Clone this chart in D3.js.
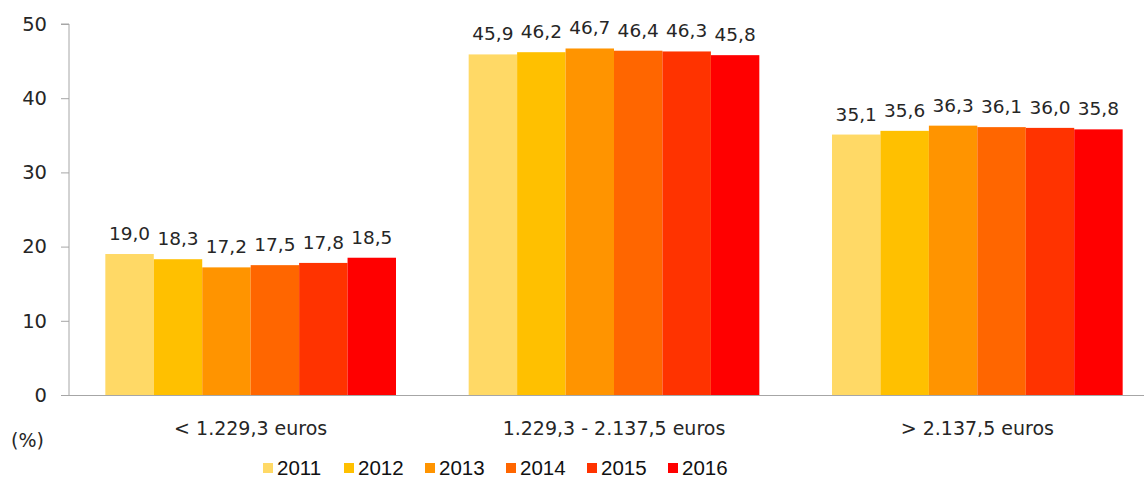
<!DOCTYPE html>
<html>
<head>
<meta charset="utf-8">
<title>chart</title>
<script src="https://cdn.jsdelivr.net/npm/d3@7"></script>
<style>
  html, body { margin: 0; padding: 0; background: #fff; }
  svg { display: block; }
  .lbl { font-family: 'DejaVu Sans', sans-serif; fill: #262626; }
  .leg { font-family: 'Liberation Sans', Arial, sans-serif; font-size: 20.5px; fill: #111; }
</style>
</head>
<body>
<svg id="chart" width="1144" height="479"></svg>
<script>
  // data
  var categories = ['< 1.229,3 euros', '1.229,3 - 2.137,5 euros', '> 2.137,5 euros'];
  var years = ['2011', '2012', '2013', '2014', '2015', '2016'];
  var values = {
    '2011': [19.0, 45.9, 35.1],
    '2012': [18.3, 46.2, 35.6],
    '2013': [17.2, 46.7, 36.3],
    '2014': [17.5, 46.4, 36.1],
    '2015': [17.8, 46.3, 36.0],
    '2016': [18.5, 45.8, 35.8]
  };
  var yTicks = [0, 10, 20, 30, 40, 50];
  var colors = ['#FFD966', '#FFC000', '#FF9400', '#FF6600', '#FF3300', '#FF0000'];

  var svg = d3.select('#chart');

  var x0 = d3.scaleBand().domain(categories).range([69, 1159]).paddingInner(0.2).paddingOuter(0.1);
  var x1 = d3.scaleBand().domain(years).range([0, x0.bandwidth()]);
  var y = d3.scaleLinear().domain([0, 50]).range([395, 24]);
  var color = d3.scaleOrdinal().domain(years).range(colors);

  // y axis
  var yAxis = svg.append('g').attr('transform', 'translate(69,0)')
    .call(d3.axisLeft(y).tickValues(yTicks).tickSize(8).tickPadding(14).tickFormat(d3.format('d')));
  yAxis.select('.domain').attr('stroke', '#a6a6a6').attr('d', 'M-8,' + y(50) + 'H0V' + y(0));
  yAxis.selectAll('.tick line').attr('stroke', '#a6a6a6');
  yAxis.selectAll('.tick text').attr('class', 'lbl').style('font-size', '19.5px').attr('fill', null);

  // x axis line
  svg.append('line')
    .attr('x1', 61).attr('x2', 1144)
    .attr('y1', y(0) + 0.5).attr('y2', y(0) + 0.5)
    .attr('stroke', '#a6a6a6');

  // bars
  var groups = svg.selectAll('g.grp').data(categories).enter().append('g')
    .attr('class', 'grp')
    .attr('transform', function(d) { return 'translate(' + x0(d) + ',0)'; });

  groups.each(function(cat, ci) {
    var g = d3.select(this);
    var rows = years.map(function(yr) { return { year: yr, v: values[yr][ci] }; });
    g.selectAll('rect').data(rows).enter().append('rect')
      .attr('x', function(d) { return x1(d.year); })
      .attr('width', x1.bandwidth())
      .attr('y', function(d) { return y(d.v); })
      .attr('height', function(d) { return y(0) - y(d.v); })
      .attr('fill', function(d) { return color(d.year); });
    g.selectAll('text').data(rows).enter().append('text')
      .attr('class', 'lbl')
      .attr('x', function(d) { return x1(d.year) + x1.bandwidth() / 2; })
      .attr('y', function(d) { return y(d.v) - 14; })
      .attr('text-anchor', 'middle')
      .style('font-size', '18.5px')
      .text(function(d) { return d3.format('.1f')(d.v).replace('.', ','); });
  });

  // category labels
  svg.selectAll('text.cat').data(categories).enter().append('text')
    .attr('class', 'lbl cat')
    .attr('x', function(d) { return x0(d) + x0.bandwidth() / 2; })
    .attr('y', 435)
    .attr('text-anchor', 'middle')
    .style('font-size', '19px')
    .text(function(d) { return d; });

  svg.append('text').attr('class', 'lbl')
    .attr('x', 11).attr('y', 447)
    .style('font-size', '19px')
    .text('(%)');

  // legend
  var leg = svg.selectAll('g.leg').data(years).enter().append('g')
    .attr('transform', function(d, i) { return 'translate(' + (263 + i * 81) + ',463)'; });
  leg.append('rect').attr('width', 10).attr('height', 10)
    .attr('fill', function(d) { return color(d); });
  leg.append('text').attr('class', 'leg')
    .attr('x', 14).attr('y', 12)
    .text(function(d) { return d; });
</script>
</body>
</html>
